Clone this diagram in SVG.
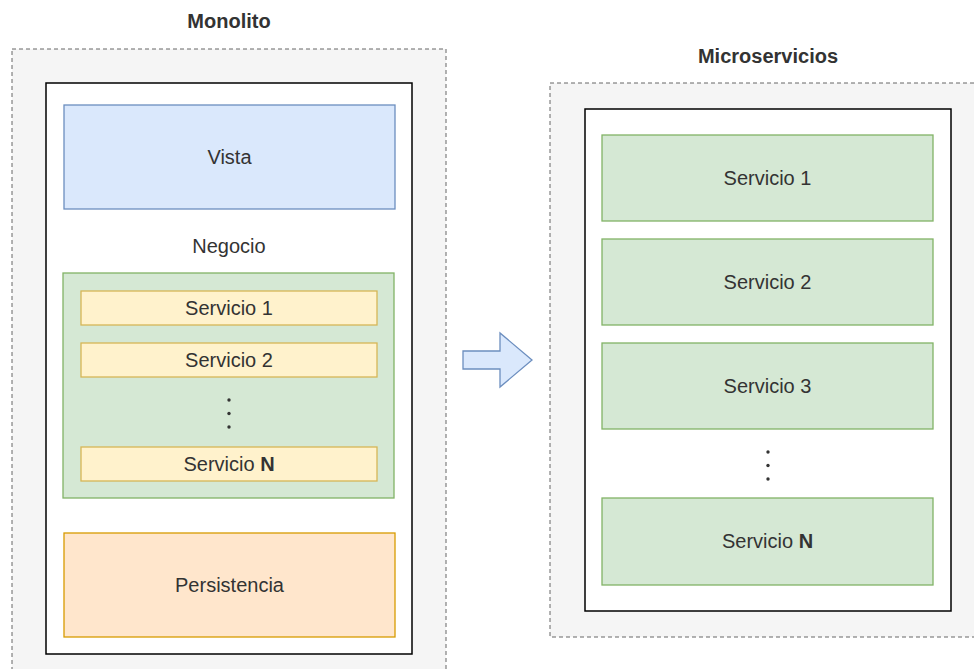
<svg xmlns="http://www.w3.org/2000/svg" width="974" height="669" viewBox="0 0 974 669">
<style>
text{font-family:"Liberation Sans",Arial,sans-serif;font-size:20px;fill:#333333;text-anchor:middle;dominant-baseline:central}
.title{font-weight:bold}
.outer{fill:#f5f5f5;stroke:#666666;stroke-width:1;stroke-dasharray:4 3}
.frame{fill:#ffffff;stroke:#000000;stroke-width:1.5}
.blue{fill:#dae8fc;stroke:#6c8ebf;stroke-width:1.3}
.green{fill:#d5e8d4;stroke:#82b366;stroke-width:1.3}
.yellow{fill:#fff2cc;stroke:#d6b656;stroke-width:1.3}
.orange{fill:#ffe6cc;stroke:#d79b00;stroke-width:1.3}
.dot{fill:#333333}
</style>
<g id="monolito">
<rect class="outer" x="12" y="49" width="434" height="640"/>
<text class="title" x="229" y="21">Monolito</text>
<rect class="frame" x="46" y="83" width="366" height="571"/>
</g>
<g id="vista"><rect class="blue" x="64" y="105" width="331" height="104"/><text x="229.5" y="157">Vista</text></g>
<g id="negocio">
<text x="229" y="246">Negocio</text>
<rect class="green" x="63" y="273" width="331" height="225"/>
</g>
<g id="m-servicio1"><rect class="yellow" x="81" y="291" width="296" height="34"/><text x="229" y="308">Servicio 1</text></g>
<g id="m-servicio2"><rect class="yellow" x="81" y="343" width="296" height="34"/><text x="229" y="360">Servicio 2</text></g>
<g id="m-dots"><circle class="dot" cx="229" cy="400" r="1.7"/><circle class="dot" cx="229" cy="413.5" r="1.7"/><circle class="dot" cx="229" cy="427" r="1.7"/></g>
<g id="m-servicioN"><rect class="yellow" x="81" y="447" width="296" height="34"/><text x="229" y="464">Servicio <tspan font-weight="bold">N</tspan></text></g>
<g id="persistencia"><rect class="orange" x="64" y="533" width="331" height="104"/><text x="229.5" y="585">Persistencia</text></g>
<g id="connectors">
<path class="blue" d="M463,351 L500,351 L500,333 L532,360 L500,387 L500,369 L463,369 Z"/>
</g>
<g id="microservicios">
<rect class="outer" x="550" y="83" width="440" height="554"/>
<text class="title" x="768" y="56">Microservicios</text>
<rect class="frame" x="585" y="109" width="366" height="502"/>
</g>
<g id="servicio1"><rect class="green" x="602" y="135" width="331" height="86"/><text x="767.5" y="178">Servicio 1</text></g>
<g id="servicio2"><rect class="green" x="602" y="239" width="331" height="86"/><text x="767.5" y="282">Servicio 2</text></g>
<g id="servicio3"><rect class="green" x="602" y="343" width="331" height="86"/><text x="767.5" y="386">Servicio 3</text></g>
<g id="dots"><circle class="dot" cx="768" cy="452" r="1.7"/><circle class="dot" cx="768" cy="465.5" r="1.7"/><circle class="dot" cx="768" cy="479" r="1.7"/></g>
<g id="servicioN"><rect class="green" x="602" y="498" width="331" height="87"/><text x="767.5" y="541">Servicio <tspan font-weight="bold">N</tspan></text></g>
</svg>
